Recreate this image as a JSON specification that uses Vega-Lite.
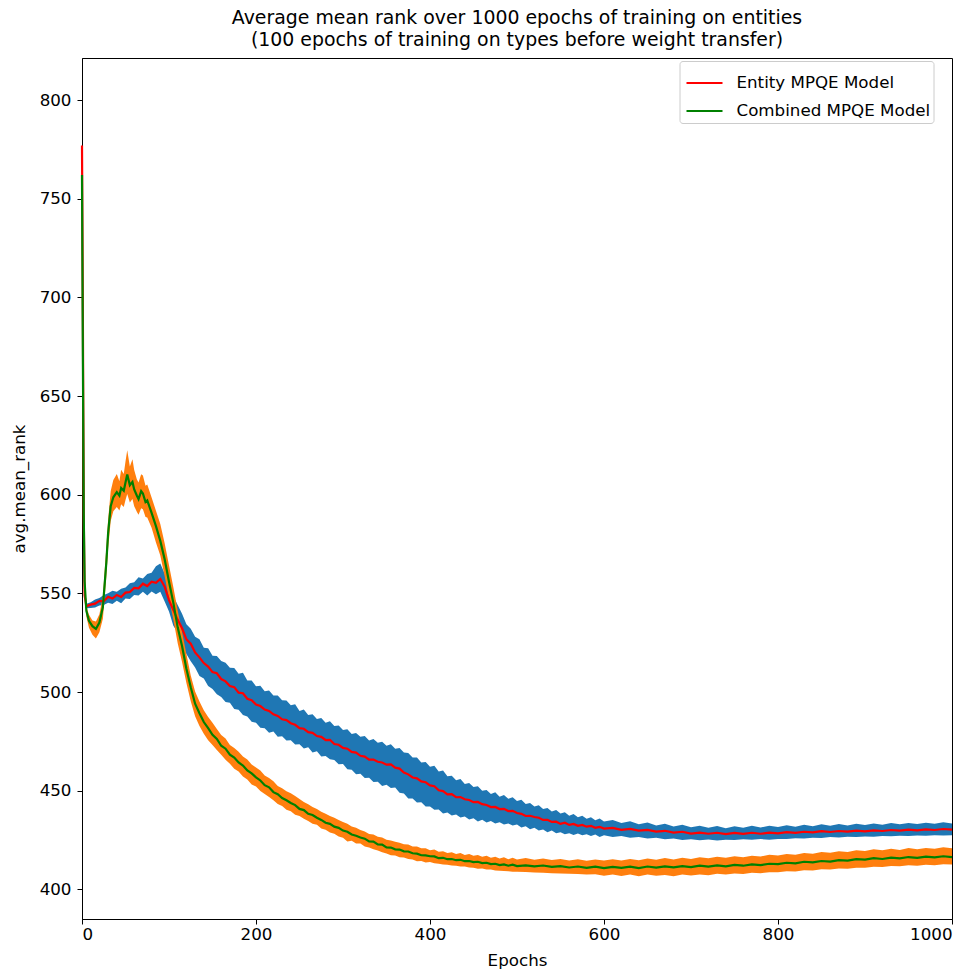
{
"$schema": "https://vega.github.io/schema/vega-lite/v6.json",
"width": 870,
"height": 861,
"autosize": {"type": "none"},
"padding": {"left": 82, "top": 58, "right": 27, "bottom": 60},
"background": "white",
"config": {
  "font": "DejaVu Sans",
  "view": {"stroke": "black", "strokeWidth": 1},
  "axis": {"grid": false, "tickSize": 5, "tickColor": "black", "domainColor": "black", "labelColor": "black", "labelFontSize": 16.7, "titleFontSize": 16.7, "titleFontWeight": "normal", "titleColor": "black", "labelFont": "DejaVu Sans", "titleFont": "DejaVu Sans"}
},
"title": {"text": ["Average mean rank over 1000 epochs of training on entities", "(100 epochs of training on types before weight transfer)"], "fontSize": 18.9, "fontWeight": "normal", "color": "black", "anchor": "middle", "offset": 8, "lineHeight": 22, "font": "DejaVu Sans"},
"datasets": {
"entity": [
{"e":0,"y":777,"lo":776,"hi":778},
{"e":1,"y":690,"lo":689,"hi":691},
{"e":2,"y":590,"lo":589,"hi":591},
{"e":3,"y":549,"lo":548,"hi":550.5},
{"e":5,"y":543.5,"lo":542.5,"hi":544.8},
{"e":10,"y":544.3,"lo":542.6,"hi":545.5},
{"e":15,"y":544.8,"lo":542.8,"hi":546.9},
{"e":20,"y":546.2,"lo":543.9,"hi":547.6},
{"e":25,"y":546.0,"lo":544.1,"hi":549.2},
{"e":30,"y":548.3,"lo":545.3,"hi":550.1},
{"e":35,"y":547.4,"lo":544.6,"hi":551.3},
{"e":40,"y":549.2,"lo":546.3,"hi":550.8},
{"e":45,"y":548.2,"lo":545.0,"hi":552.3},
{"e":50,"y":550.4,"lo":547.4,"hi":553.0},
{"e":55,"y":550.7,"lo":547.1,"hi":555.1},
{"e":60,"y":552.8,"lo":549.2,"hi":555.6},
{"e":65,"y":552.6,"lo":548.9,"hi":558.2},
{"e":70,"y":554.9,"lo":550.8,"hi":557.6},
{"e":75,"y":553.7,"lo":548.9,"hi":559.8},
{"e":80,"y":555.9,"lo":550.9,"hi":560.4},
{"e":85,"y":555.4,"lo":549.6,"hi":563.8},
{"e":90,"y":557.3,"lo":550.8,"hi":565.2},
{"e":95,"y":553.4,"lo":545.9,"hi":560.1},
{"e":100,"y":546.6,"lo":540.8,"hi":553.9},
{"e":105,"y":541.5,"lo":533.6,"hi":548.6},
{"e":110,"y":536.6,"lo":530.2,"hi":544.1},
{"e":115,"y":532.4,"lo":524.0,"hi":539.7},
{"e":120,"y":526.7,"lo":519.3,"hi":534.4},
{"e":125,"y":524.5,"lo":515.6,"hi":532.1},
{"e":130,"y":520.1,"lo":512.4,"hi":528.0},
{"e":135,"y":517.6,"lo":508.1,"hi":526.8},
{"e":140,"y":514.7,"lo":506.9,"hi":522.4},
{"e":145,"y":512.9,"lo":503.1,"hi":522.2},
{"e":150,"y":510.1,"lo":501.6,"hi":518.4},
{"e":155,"y":509.5,"lo":498.9,"hi":518.3},
{"e":160,"y":506.6,"lo":497.5,"hi":515.8},
{"e":165,"y":505.4,"lo":494.9,"hi":514.9},
{"e":170,"y":503.1,"lo":494.6,"hi":512.3},
{"e":175,"y":502.5,"lo":491.4,"hi":512.2},
{"e":180,"y":499.7,"lo":491.0,"hi":509.3},
{"e":185,"y":499.4,"lo":488.4,"hi":509.8},
{"e":190,"y":496.6,"lo":487.6,"hi":505.9},
{"e":195,"y":495.9,"lo":484.9,"hi":505.8},
{"e":200,"y":493.7,"lo":484.5,"hi":502.9},
{"e":205,"y":492.9,"lo":481.9,"hi":503.2},
{"e":210,"y":491.1,"lo":481.6,"hi":500.4},
{"e":215,"y":490.4,"lo":479.4,"hi":500.8},
{"e":220,"y":488.7,"lo":480.0,"hi":498.3},
{"e":225,"y":487.9,"lo":477.4,"hi":498.2},
{"e":230,"y":486.2,"lo":477.6,"hi":495.8},
{"e":235,"y":485.8,"lo":475.4,"hi":495.7},
{"e":240,"y":484.2,"lo":475.6,"hi":493.3},
{"e":245,"y":483.4,"lo":473.4,"hi":493.8},
{"e":250,"y":481.7,"lo":473.5,"hi":490.4},
{"e":255,"y":481.4,"lo":471.4,"hi":491.2},
{"e":260,"y":479.7,"lo":472.0,"hi":488.4},
{"e":265,"y":479.3,"lo":469.4,"hi":488.7},
{"e":270,"y":477.7,"lo":470.0,"hi":486.3},
{"e":275,"y":477.3,"lo":467.4,"hi":486.8},
{"e":280,"y":475.7,"lo":467.6,"hi":484.4},
{"e":285,"y":475.8,"lo":465.9,"hi":485.2},
{"e":290,"y":473.7,"lo":465.6,"hi":482.8},
{"e":295,"y":473.3,"lo":463.4,"hi":483.1},
{"e":300,"y":471.7,"lo":463.6,"hi":480.8},
{"e":305,"y":471.3,"lo":460.9,"hi":481.2},
{"e":310,"y":469.7,"lo":460.6,"hi":478.8},
{"e":315,"y":469.3,"lo":458.4,"hi":479.2},
{"e":320,"y":467.7,"lo":458.6,"hi":477.3},
{"e":325,"y":467.3,"lo":456.4,"hi":477.7},
{"e":330,"y":465.8,"lo":456.6,"hi":475.4},
{"e":335,"y":465.8,"lo":454.4,"hi":476.2},
{"e":340,"y":464.7,"lo":454.6,"hi":474.3},
{"e":345,"y":464.3,"lo":452.4,"hi":474.8},
{"e":350,"y":463.2,"lo":453.0,"hi":472.8},
{"e":355,"y":463.3,"lo":451.4,"hi":473.6},
{"e":360,"y":461.7,"lo":451.6,"hi":471.3},
{"e":365,"y":461.2,"lo":449.0,"hi":471.6},
{"e":370,"y":459.2,"lo":448.6,"hi":469.4},
{"e":375,"y":458.3,"lo":446.1,"hi":469.1},
{"e":380,"y":456.7,"lo":446.0,"hi":466.8},
{"e":385,"y":456.3,"lo":444.0,"hi":466.9},
{"e":390,"y":454.7,"lo":444.2,"hi":464.3},
{"e":395,"y":454.3,"lo":442.0,"hi":464.6},
{"e":400,"y":452.7,"lo":442.0,"hi":462.2},
{"e":405,"y":452.3,"lo":440.4,"hi":462.6},
{"e":410,"y":450.2,"lo":440.5,"hi":459.8},
{"e":415,"y":449.8,"lo":438.5,"hi":460.3},
{"e":420,"y":448.2,"lo":439.0,"hi":457.4},
{"e":425,"y":448.3,"lo":437.4,"hi":457.6},
{"e":430,"y":446.7,"lo":438.0,"hi":455.3},
{"e":435,"y":446.8,"lo":436.4,"hi":455.9},
{"e":440,"y":445.7,"lo":437.0,"hi":453.4},
{"e":445,"y":445.3,"lo":435.4,"hi":453.9},
{"e":450,"y":444.2,"lo":436.0,"hi":451.9},
{"e":455,"y":444.3,"lo":434.4,"hi":452.3},
{"e":460,"y":443.2,"lo":435.3,"hi":450.0},
{"e":465,"y":442.8,"lo":433.9,"hi":450.4},
{"e":470,"y":441.7,"lo":434.6,"hi":448.4},
{"e":475,"y":441.8,"lo":433.4,"hi":449.2},
{"e":480,"y":440.7,"lo":434.0,"hi":447.0},
{"e":485,"y":440.8,"lo":432.9,"hi":447.8},
{"e":490,"y":439.7,"lo":433.4,"hi":445.9},
{"e":495,"y":439.8,"lo":432.4,"hi":446.7},
{"e":500,"y":438.7,"lo":432.9,"hi":444.8},
{"e":505,"y":438.3,"lo":431.4,"hi":445.4},
{"e":510,"y":437.2,"lo":432.0,"hi":443.3},
{"e":515,"y":437.3,"lo":430.5,"hi":443.8},
{"e":520,"y":436.7,"lo":431.3,"hi":442.0},
{"e":525,"y":436.3,"lo":429.9,"hi":442.6},
{"e":530,"y":435.2,"lo":430.4,"hi":440.7},
{"e":535,"y":435.3,"lo":429.0,"hi":441.3},
{"e":540,"y":434.2,"lo":429.8,"hi":439.5},
{"e":545,"y":434.3,"lo":428.4,"hi":440.2},
{"e":550,"y":433.2,"lo":429.0,"hi":438.4},
{"e":555,"y":433.8,"lo":428.0,"hi":439.1},
{"e":560,"y":432.7,"lo":428.4,"hi":437.3},
{"e":565,"y":433.2,"lo":427.6,"hi":438.2},
{"e":570,"y":432.2,"lo":428.3,"hi":436.5},
{"e":575,"y":432.7,"lo":427.4,"hi":437.3},
{"e":580,"y":431.8,"lo":428.0,"hi":435.8},
{"e":585,"y":432.2,"lo":427.0,"hi":436.6},
{"e":590,"y":431.2,"lo":427.8,"hi":435.0},
{"e":595,"y":431.7,"lo":426.6,"hi":435.9},
{"e":600,"y":430.8,"lo":427.4,"hi":434.4},
{"e":610,"y":431.2,"lo":426.6,"hi":435.2},
{"e":620,"y":430.2,"lo":427.0,"hi":433.6},
{"e":630,"y":430.7,"lo":426.2,"hi":434.5},
{"e":640,"y":429.8,"lo":426.6,"hi":433.0},
{"e":650,"y":430.2,"lo":425.8,"hi":433.9},
{"e":660,"y":429.3,"lo":426.2,"hi":432.4},
{"e":670,"y":429.7,"lo":425.4,"hi":433.3},
{"e":680,"y":428.8,"lo":425.8,"hi":431.9},
{"e":690,"y":429.2,"lo":425.0,"hi":432.8},
{"e":700,"y":428.3,"lo":425.4,"hi":431.5},
{"e":710,"y":428.8,"lo":424.9,"hi":432.3},
{"e":720,"y":428.2,"lo":425.3,"hi":431.2},
{"e":730,"y":428.7,"lo":424.8,"hi":432.1},
{"e":740,"y":428.0,"lo":425.2,"hi":431.0},
{"e":750,"y":428.6,"lo":425.0,"hi":432.0},
{"e":760,"y":428.1,"lo":425.4,"hi":431.3},
{"e":770,"y":428.7,"lo":425.1,"hi":432.2},
{"e":780,"y":428.2,"lo":425.5,"hi":431.4},
{"e":790,"y":428.8,"lo":425.2,"hi":432.3},
{"e":800,"y":428.4,"lo":425.6,"hi":431.6},
{"e":810,"y":429.0,"lo":425.5,"hi":432.5},
{"e":820,"y":428.6,"lo":425.9,"hi":431.8},
{"e":830,"y":429.2,"lo":425.8,"hi":432.8},
{"e":840,"y":428.9,"lo":426.2,"hi":432.0},
{"e":850,"y":429.5,"lo":426.1,"hi":433.0},
{"e":860,"y":429.1,"lo":426.5,"hi":432.2},
{"e":870,"y":429.6,"lo":426.3,"hi":433.1},
{"e":880,"y":429.3,"lo":426.7,"hi":432.4},
{"e":890,"y":429.8,"lo":426.5,"hi":433.3},
{"e":900,"y":429.4,"lo":426.8,"hi":432.6},
{"e":910,"y":429.9,"lo":426.7,"hi":433.4},
{"e":920,"y":429.6,"lo":427.0,"hi":432.8},
{"e":930,"y":430.1,"lo":426.9,"hi":433.6},
{"e":940,"y":429.8,"lo":427.2,"hi":433.0},
{"e":950,"y":430.3,"lo":427.1,"hi":433.7},
{"e":960,"y":429.9,"lo":427.3,"hi":433.1},
{"e":970,"y":430.4,"lo":427.2,"hi":433.8},
{"e":980,"y":430.1,"lo":427.4,"hi":433.3},
{"e":990,"y":430.6,"lo":427.3,"hi":434.0},
{"e":1000,"y":430.3,"lo":427.5,"hi":433.4}
],
"combined": [
{"e":0,"y":762,"lo":761,"hi":763},
{"e":1,"y":670,"lo":669,"hi":671},
{"e":2,"y":590,"lo":588.5,"hi":591.5},
{"e":3,"y":556,"lo":553.8,"hi":558.2},
{"e":5,"y":541.2,"lo":538.3,"hi":543.4},
{"e":8,"y":536.1,"lo":532.6,"hi":539.2},
{"e":12,"y":533.4,"lo":529.1,"hi":536.2},
{"e":16,"y":532.0,"lo":527.1,"hi":535.7},
{"e":20,"y":535.2,"lo":530.3,"hi":539.4},
{"e":24,"y":543.1,"lo":537.2,"hi":548.5},
{"e":28,"y":565.8,"lo":558.7,"hi":573.4},
{"e":30,"y":580.4,"lo":572.6,"hi":587.2},
{"e":33,"y":594.2,"lo":586.7,"hi":601.9},
{"e":36,"y":598.7,"lo":591.6,"hi":607.4},
{"e":40,"y":601.3,"lo":593.8,"hi":610.5},
{"e":43,"y":599.5,"lo":592.0,"hi":606.8},
{"e":45,"y":603.4,"lo":595.2,"hi":612.6},
{"e":48,"y":602.0,"lo":593.8,"hi":610.5},
{"e":50,"y":606.2,"lo":597.3,"hi":616.8},
{"e":52,"y":610.3,"lo":600.4,"hi":622.5},
{"e":55,"y":604.8,"lo":596.1,"hi":614.3},
{"e":58,"y":606.5,"lo":597.8,"hi":618.0},
{"e":60,"y":602.7,"lo":594.2,"hi":612.5},
{"e":63,"y":599.6,"lo":591.4,"hi":607.9},
{"e":65,"y":597.8,"lo":589.9,"hi":606.2},
{"e":68,"y":601.8,"lo":593.2,"hi":610.4},
{"e":70,"y":600.6,"lo":592.6,"hi":609.7},
{"e":73,"y":596.3,"lo":588.7,"hi":604.5},
{"e":75,"y":597.1,"lo":588.4,"hi":605.2},
{"e":80,"y":590.8,"lo":583.2,"hi":598.6},
{"e":85,"y":584.1,"lo":575.8,"hi":591.9},
{"e":90,"y":576.6,"lo":569.2,"hi":585.1},
{"e":95,"y":567.3,"lo":558.7,"hi":575.4},
{"e":100,"y":555.9,"lo":547.3,"hi":564.2},
{"e":105,"y":545.2,"lo":536.8,"hi":553.1},
{"e":110,"y":532.8,"lo":524.7,"hi":541.3},
{"e":115,"y":523.3,"lo":515.2,"hi":530.4},
{"e":120,"y":511.8,"lo":504.6,"hi":519.3},
{"e":125,"y":502.4,"lo":495.3,"hi":508.4},
{"e":130,"y":494.1,"lo":487.7,"hi":500.3},
{"e":135,"y":489.3,"lo":482.8,"hi":495.2},
{"e":140,"y":484.8,"lo":478.9,"hi":490.8},
{"e":145,"y":481.7,"lo":475.6,"hi":487.3},
{"e":150,"y":478.3,"lo":473.2,"hi":484.4},
{"e":155,"y":476.2,"lo":470.7,"hi":481.3},
{"e":160,"y":472.8,"lo":468.2,"hi":478.3},
{"e":165,"y":471.3,"lo":465.7,"hi":476.5},
{"e":170,"y":468.3,"lo":463.7,"hi":473.2},
{"e":175,"y":466.8,"lo":461.2,"hi":471.6},
{"e":180,"y":464.3,"lo":459.8,"hi":469.8},
{"e":185,"y":462.8,"lo":457.2,"hi":467.3},
{"e":190,"y":460.3,"lo":455.7,"hi":465.8},
{"e":195,"y":458.8,"lo":453.2,"hi":463.3},
{"e":200,"y":456.8,"lo":452.2,"hi":461.8},
{"e":205,"y":455.2,"lo":449.8,"hi":460.3},
{"e":210,"y":452.8,"lo":448.3,"hi":457.7},
{"e":215,"y":451.7,"lo":446.8,"hi":456.4},
{"e":220,"y":449.3,"lo":445.2,"hi":454.8},
{"e":225,"y":448.2,"lo":443.3,"hi":452.4},
{"e":230,"y":446.3,"lo":442.2,"hi":451.3},
{"e":235,"y":445.2,"lo":440.3,"hi":449.7},
{"e":240,"y":443.8,"lo":439.6,"hi":448.7},
{"e":245,"y":442.7,"lo":437.8,"hi":447.3},
{"e":250,"y":440.8,"lo":437.2,"hi":445.8},
{"e":255,"y":440.2,"lo":435.8,"hi":444.3},
{"e":260,"y":438.3,"lo":434.6,"hi":443.2},
{"e":265,"y":437.7,"lo":433.3,"hi":441.7},
{"e":270,"y":436.3,"lo":432.7,"hi":440.8},
{"e":275,"y":435.2,"lo":430.8,"hi":439.3},
{"e":280,"y":433.8,"lo":430.2,"hi":438.3},
{"e":285,"y":433.2,"lo":428.8,"hi":437.2},
{"e":290,"y":431.8,"lo":428.2,"hi":436.3},
{"e":295,"y":431.2,"lo":426.8,"hi":435.2},
{"e":300,"y":429.8,"lo":426.2,"hi":434.1},
{"e":305,"y":429.2,"lo":424.3,"hi":433.3},
{"e":310,"y":427.8,"lo":424.7,"hi":431.9},
{"e":315,"y":427.2,"lo":423.3,"hi":431.3},
{"e":320,"y":426.3,"lo":423.2,"hi":430.1},
{"e":325,"y":425.7,"lo":421.8,"hi":429.3},
{"e":330,"y":424.3,"lo":421.2,"hi":428.1},
{"e":335,"y":424.2,"lo":420.3,"hi":427.8},
{"e":340,"y":422.8,"lo":419.7,"hi":426.7},
{"e":345,"y":422.7,"lo":418.8,"hi":426.3},
{"e":350,"y":421.3,"lo":418.2,"hi":425.1},
{"e":355,"y":421.2,"lo":417.3,"hi":424.8},
{"e":360,"y":420.3,"lo":417.2,"hi":424.2},
{"e":365,"y":420.2,"lo":416.3,"hi":423.6},
{"e":370,"y":419.3,"lo":416.2,"hi":422.9},
{"e":375,"y":419.2,"lo":415.4,"hi":422.8},
{"e":380,"y":418.3,"lo":415.2,"hi":421.8},
{"e":385,"y":418.1,"lo":414.3,"hi":421.7},
{"e":390,"y":417.3,"lo":414.4,"hi":420.8},
{"e":395,"y":417.2,"lo":413.6,"hi":420.9},
{"e":400,"y":416.8,"lo":413.9,"hi":419.8},
{"e":405,"y":416.7,"lo":413.2,"hi":420.2},
{"e":410,"y":415.8,"lo":413.0,"hi":419.1},
{"e":415,"y":416.0,"lo":412.6,"hi":419.3},
{"e":420,"y":415.3,"lo":412.5,"hi":418.4},
{"e":425,"y":415.4,"lo":412.1,"hi":418.8},
{"e":430,"y":414.8,"lo":412.0,"hi":418.0},
{"e":435,"y":415.0,"lo":411.6,"hi":418.4},
{"e":440,"y":414.3,"lo":411.6,"hi":417.4},
{"e":445,"y":414.4,"lo":411.1,"hi":417.9},
{"e":450,"y":413.8,"lo":411.0,"hi":417.0},
{"e":455,"y":414.0,"lo":410.5,"hi":417.4},
{"e":460,"y":413.3,"lo":410.6,"hi":416.5},
{"e":465,"y":413.5,"lo":410.1,"hi":417.0},
{"e":470,"y":412.8,"lo":410.1,"hi":416.0},
{"e":475,"y":413.0,"lo":409.6,"hi":416.6},
{"e":480,"y":412.3,"lo":409.5,"hi":415.6},
{"e":485,"y":412.7,"lo":409.3,"hi":416.3},
{"e":490,"y":412.0,"lo":409.2,"hi":415.3},
{"e":495,"y":412.5,"lo":409.0,"hi":416.1},
{"e":500,"y":411.8,"lo":408.9,"hi":415.1},
{"e":510,"y":412.2,"lo":408.8,"hi":415.9},
{"e":520,"y":411.7,"lo":408.6,"hi":415.0},
{"e":530,"y":412.1,"lo":408.4,"hi":415.7},
{"e":540,"y":411.4,"lo":408.2,"hi":414.9},
{"e":550,"y":411.8,"lo":408.1,"hi":415.4},
{"e":560,"y":411.1,"lo":407.9,"hi":414.6},
{"e":570,"y":411.6,"lo":407.8,"hi":415.3},
{"e":580,"y":410.9,"lo":407.5,"hi":414.5},
{"e":590,"y":411.5,"lo":407.7,"hi":415.2},
{"e":600,"y":410.8,"lo":406.9,"hi":414.6},
{"e":610,"y":411.4,"lo":407.6,"hi":415.3},
{"e":620,"y":410.9,"lo":406.8,"hi":414.7},
{"e":630,"y":411.5,"lo":407.5,"hi":415.4},
{"e":640,"y":410.8,"lo":406.7,"hi":414.8},
{"e":650,"y":411.6,"lo":407.6,"hi":415.6},
{"e":660,"y":411.0,"lo":406.9,"hi":415.0},
{"e":670,"y":411.7,"lo":407.3,"hi":415.9},
{"e":680,"y":411.2,"lo":406.6,"hi":415.2},
{"e":690,"y":411.8,"lo":407.5,"hi":416.0},
{"e":700,"y":411.3,"lo":407.0,"hi":415.4},
{"e":710,"y":412.0,"lo":407.6,"hi":416.3},
{"e":720,"y":411.5,"lo":407.2,"hi":415.8},
{"e":730,"y":412.2,"lo":407.9,"hi":416.5},
{"e":740,"y":411.7,"lo":407.5,"hi":416.0},
{"e":750,"y":412.4,"lo":408.1,"hi":416.8},
{"e":760,"y":412.0,"lo":407.8,"hi":416.3},
{"e":770,"y":412.7,"lo":408.4,"hi":417.1},
{"e":780,"y":412.3,"lo":408.2,"hi":416.7},
{"e":790,"y":413.0,"lo":408.7,"hi":417.5},
{"e":800,"y":412.8,"lo":408.7,"hi":417.2},
{"e":810,"y":413.5,"lo":409.2,"hi":418.0},
{"e":820,"y":413.2,"lo":409.1,"hi":417.6},
{"e":830,"y":414.0,"lo":409.7,"hi":418.5},
{"e":840,"y":413.7,"lo":409.6,"hi":418.1},
{"e":850,"y":414.4,"lo":410.2,"hi":418.9},
{"e":860,"y":414.1,"lo":410.1,"hi":418.6},
{"e":870,"y":414.8,"lo":410.6,"hi":419.3},
{"e":880,"y":414.6,"lo":410.5,"hi":419.0},
{"e":890,"y":415.3,"lo":411.0,"hi":419.8},
{"e":900,"y":415.1,"lo":411.0,"hi":419.5},
{"e":910,"y":415.8,"lo":411.5,"hi":420.3},
{"e":920,"y":415.4,"lo":411.4,"hi":419.8},
{"e":930,"y":416.1,"lo":411.9,"hi":420.6},
{"e":940,"y":415.7,"lo":411.7,"hi":420.0},
{"e":950,"y":416.4,"lo":412.2,"hi":421.0},
{"e":960,"y":416.0,"lo":412.0,"hi":420.4},
{"e":970,"y":416.6,"lo":412.5,"hi":421.0},
{"e":980,"y":416.2,"lo":412.3,"hi":420.6},
{"e":990,"y":416.8,"lo":412.7,"hi":421.3},
{"e":1000,"y":416.4,"lo":412.6,"hi":420.8}
]
},
"layer": [
  {
    "data": {"name": "entity"},
    "mark": {"type": "area", "color": "#1f77b4", "opacity": 1},
    "encoding": {
      "x": {"field": "e", "type": "quantitative", "scale": {"domain": [0, 1000], "nice": false, "zero": false}, "axis": {"title": "Epochs", "values": [0, 200, 400, 600, 800, 1000], "format": "d", "labelPadding": 2, "titlePadding": 10}},
      "y": {"field": "lo", "type": "quantitative", "scale": {"domain": [385, 821.3], "nice": false, "zero": false}, "axis": {"title": "avg.mean_rank", "values": [400, 450, 500, 550, 600, 650, 700, 750, 800], "format": "d", "labelPadding": 6, "titlePadding": 11}},
      "y2": {"field": "hi"}
    }
  },
  {
    "data": {"name": "combined"},
    "mark": {"type": "area", "color": "#ff7f0e", "opacity": 1},
    "encoding": {
      "x": {"field": "e", "type": "quantitative"},
      "y": {"field": "lo", "type": "quantitative"},
      "y2": {"field": "hi"}
    }
  },
  {
    "data": {"name": "entity"},
    "mark": {"type": "line", "strokeWidth": 2.2},
    "encoding": {
      "x": {"field": "e", "type": "quantitative"},
      "y": {"field": "y", "type": "quantitative"},
      "color": {"datum": "Entity MPQE Model", "scale": {"domain": ["Entity MPQE Model", "Combined MPQE Model"], "range": ["#ff0000", "#008000"]}, "legend": {"title": null, "orient": "none", "legendX": 597.5, "legendY": 3, "fillColor": "white", "strokeColor": "#cccccc", "cornerRadius": 3, "padding": 3, "labelFontSize": 16.7, "labelFont": "DejaVu Sans", "labelColor": "black", "labelLimit": 0, "symbolType": "stroke", "symbolSize": 1296, "symbolStrokeWidth": 2, "symbolOffset": 3, "labelOffset": 13, "rowPadding": -1}}
    }
  },
  {
    "data": {"name": "combined"},
    "mark": {"type": "line", "strokeWidth": 2.2},
    "encoding": {
      "x": {"field": "e", "type": "quantitative"},
      "y": {"field": "y", "type": "quantitative"},
      "color": {"datum": "Combined MPQE Model"}
    }
  }
]
}
